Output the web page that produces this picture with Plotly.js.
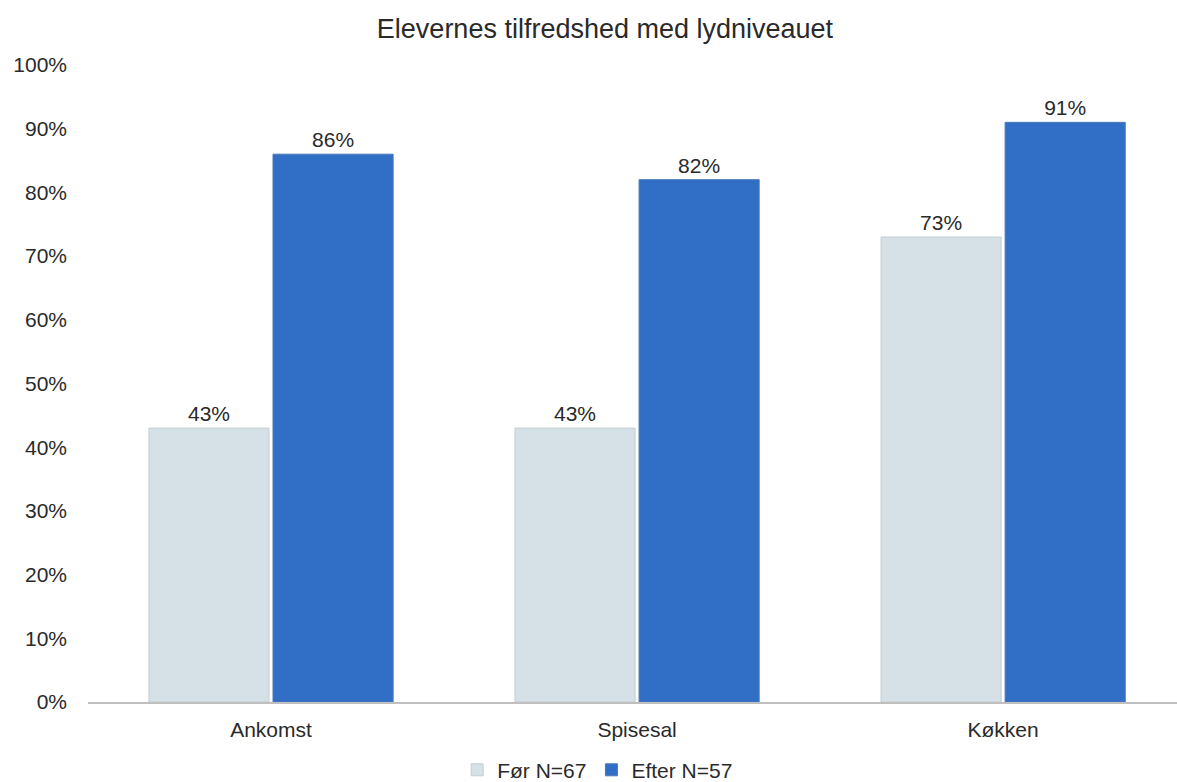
<!DOCTYPE html>
<html><head><meta charset="utf-8">
<script src="https://cdn.plot.ly/plotly-3.0.1.min.js"></script>
<style>html,body{margin:0;padding:0;background:#fff;overflow:hidden}</style>
</head><body><div id="chart" style="width:1177px;height:782px"></div>
<script>
const categories = ["Ankomst", "Spisesal", "Køkken"];
const forValues = [43, 43, 73];
const efterValues = [86, 82, 91];
const seriesNames = ["Før N=67", "Efter N=57"];
const yTickVals = [0,10,20,30,40,50,60,70,80,90,100];
const yTickText = yTickVals.map(v => v + "%");

const fam = "Liberation Sans, Arial, sans-serif";
const txt = "#2a2a2a";
const traces = [
  {type: "bar", name: seriesNames[0], x: categories, y: forValues,
   text: forValues.map(v => v + "%"), textposition: "outside", cliponaxis: false,
   textfont: {size: 21, color: txt, family: fam},
   marker: {color: "#d5e1e6", line: {color: "#c3cdd2", width: 1}}},
  {type: "bar", name: seriesNames[1], x: categories, y: efterValues,
   text: efterValues.map(v => v + "%"), textposition: "outside", cliponaxis: false,
   textfont: {size: 21, color: txt, family: fam},
   marker: {color: "#316fc7", line: {color: "#4a78b8", width: 1}}}
];
const layout = {
  width: 1177, height: 782,
  margin: {l: 88, r: 0, t: 65, b: 80, autoexpand: false},
  paper_bgcolor: "#fff", plot_bgcolor: "#fff",
  font: {size: 21, color: txt, family: fam},
  title: {text: "Elevernes tilfredshed med lydniveauet", x: 0.514, xanchor: "center", y: 0.964, yanchor: "middle",
          font: {size: 27, color: txt, family: fam}},
  barmode: "group", bargap: 0.322, bargroupgap: 0.032,
  showlegend: true,
  legend: {orientation: "h", x: 0.468, xanchor: "center", y: -0.107, yanchor: "middle",
           font: {size: 21, color: txt, family: fam}, itemwidth: 30, traceorder: "normal"},
  xaxis: {range: [-0.5, 2.475], showline: true, linecolor: "#bfbfbf", linewidth: 2,
          ticks: "", ticklabelstandoff: 8, tickfont: {size: 21, color: txt, family: fam}, automargin: false},
  yaxis: {range: [0, 100], tickvals: yTickVals, ticktext: yTickText, showgrid: false,
          zeroline: false, showline: false, ticks: "", ticklabelstandoff: 20, automargin: false,
          tickfont: {size: 21, color: txt, family: fam}}
};
Plotly.newPlot("chart", traces, layout, {displayModeBar: false, staticPlot: true});
</script></body></html>
